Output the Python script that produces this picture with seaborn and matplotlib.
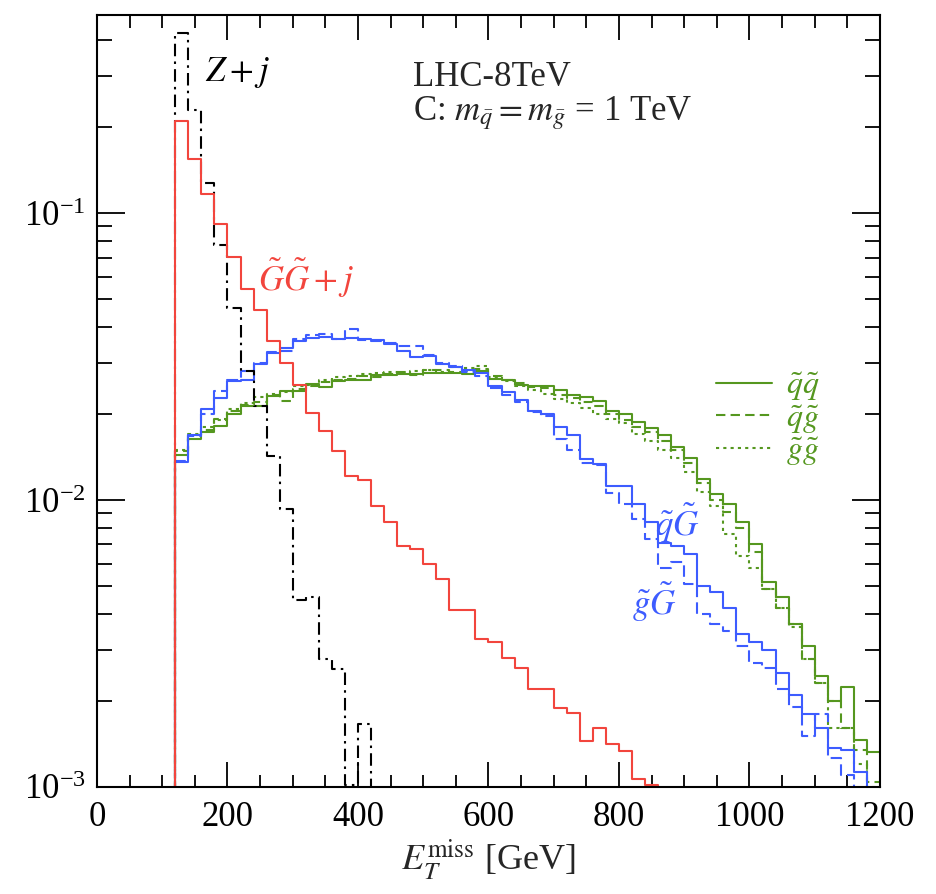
import numpy as np
import pandas as pd
import matplotlib
matplotlib.use("Agg")
import matplotlib.pyplot as plt
from matplotlib.lines import Line2D
from matplotlib.ticker import LogLocator, MultipleLocator, NullFormatter
import seaborn as sns

# 20 GeV bins, lower edges 120 ... 1180
bin_edges = np.arange(120, 1201, 20)

# Z + jet background (dash-dot), 0 = below the plotted range
zj = [0.424, 0.229, 0.127, 0.0774, 0.0467, 0.0282, 0.0213, 0.01425, 0.0093, 0.00447,
      0.00461, 0.0028, 0.00258, 0.00102, 0.00166, 0, 0, 0, 0, 0,
      0, 0, 0, 0, 0, 0, 0, 0, 0, 0,
      0, 0, 0, 0, 0, 0, 0, 0, 0, 0,
      0, 0, 0, 0, 0, 0, 0, 0, 0, 0,
      0, 0, 0, 0]

# gravitino pair + jet (red)
gg_j = [0.210, 0.154, 0.117, 0.0913, 0.0705, 0.0545, 0.046, 0.0357, 0.0301, 0.0251,
        0.0201, 0.0174, 0.0148, 0.0121, 0.0117, 0.00956, 0.00837, 0.00694, 0.00676, 0.0060,
        0.00532, 0.00415, 0.00415, 0.00329, 0.00321, 0.00281, 0.0026, 0.00219, 0.00219, 0.00189,
        0.00181, 0.00145, 0.0016, 0.00141, 0.00133, 0.00107, 0.00102, 0, 0, 0,
        0, 0, 0, 0, 0, 0, 0, 0, 0, 0,
        0, 0, 0, 0]

# squark + gravitino (blue solid)
qG = [0.0136, 0.0168, 0.0208, 0.0227, 0.0259, 0.0263, 0.0297, 0.0326, 0.0338, 0.0357,
      0.0367, 0.0371, 0.0365, 0.0366, 0.0364, 0.0360, 0.0350, 0.0330, 0.0315, 0.0318,
      0.0297, 0.0290, 0.0285, 0.0277, 0.0250, 0.0237, 0.0224, 0.0205, 0.0199, 0.0179,
      0.0168, 0.0139, 0.0133, 0.0112, 0.0112, 0.0097, 0.0084, 0.0071, 0.0069, 0.0065,
      0.0050, 0.0048, 0.0042, 0.0034, 0.0032, 0.0030, 0.0025, 0.0021, 0.0018, 0.0016,
      0.00137, 0.00135, 0.00113, 0.00098]

# gluino + gravitino (blue dashed)
gG = [0.0137, 0.0167, 0.0199, 0.0240, 0.0263, 0.0281, 0.0301, 0.0328, 0.0330, 0.0364,
      0.0377, 0.0380, 0.0364, 0.0393, 0.0362, 0.0358, 0.0352, 0.0343, 0.0343, 0.0320,
      0.0300, 0.0292, 0.0280, 0.0270, 0.0245, 0.0232, 0.0219, 0.0202, 0.0196, 0.0163,
      0.0150, 0.0135, 0.0132, 0.0106, 0.0097, 0.0086, 0.0073, 0.0058, 0.0061, 0.0051,
      0.0040, 0.0037, 0.0035, 0.0031, 0.0027, 0.0026, 0.0022, 0.0019, 0.0015, 0.0018,
      0.00126, 0.0011, 0.0009, 0.0008]

# squark pair (green solid)
qq = [0.0143, 0.0163, 0.0172, 0.0181, 0.0199, 0.0212, 0.0212, 0.0230, 0.0240, 0.0240,
      0.0253, 0.0248, 0.0260, 0.0262, 0.0262, 0.0272, 0.0272, 0.0275, 0.0276, 0.0277,
      0.0278, 0.0278, 0.0276, 0.0282, 0.0265, 0.0263, 0.0252, 0.0250, 0.0250, 0.0242,
      0.0232, 0.0228, 0.0221, 0.0205, 0.0200, 0.0187, 0.0178, 0.0168, 0.0153, 0.0140,
      0.0118, 0.0105, 0.0097, 0.0084, 0.0070, 0.0052, 0.0046, 0.0037, 0.0031, 0.00244,
      0.0020, 0.00223, 0.00146, 0.00132]

# squark + gluino (green dashed)
qg = [0.0148, 0.0168, 0.0175, 0.0192, 0.0205, 0.0215, 0.0220, 0.0233, 0.0222, 0.0244,
      0.0250, 0.0258, 0.0262, 0.0265, 0.0270, 0.0268, 0.0275, 0.0280, 0.0272, 0.0283,
      0.0285, 0.0280, 0.0282, 0.0286, 0.0270, 0.0262, 0.0255, 0.0248, 0.0245, 0.0232,
      0.0226, 0.0220, 0.0212, 0.0200, 0.0190, 0.0180, 0.0172, 0.0160, 0.0150, 0.0135,
      0.0115, 0.0100, 0.0091, 0.0080, 0.0066, 0.0049, 0.0042, 0.0037, 0.0028, 0.0023,
      0.0020, 0.0016, 0.00135, 0.00104]

# gluino pair (green dotted)
gg = [0.0150, 0.0170, 0.0180, 0.0190, 0.0208, 0.0218, 0.0228, 0.0235, 0.0238, 0.0250,
      0.0252, 0.0262, 0.0268, 0.0270, 0.0275, 0.0278, 0.0280, 0.0278, 0.0282, 0.0285,
      0.0280, 0.0290, 0.0288, 0.0292, 0.0268, 0.0260, 0.0250, 0.0242, 0.0235, 0.0225,
      0.0218, 0.0210, 0.0200, 0.0192, 0.0185, 0.0170, 0.0160, 0.0150, 0.0140, 0.0125,
      0.0107, 0.0095, 0.0076, 0.0064, 0.0058, 0.0049, 0.0042, 0.0036, 0.0028, 0.0023,
      0.0016, 0.0016, 0.0012, 0.0010]

RED = "#f2453d"
BLUE = "#3d5cff"
GREEN = "#55971f"

sns.set_style("ticks")
plt.rcParams["font.family"] = ["Liberation Serif", "DejaVu Serif"]
plt.rcParams["mathtext.fontset"] = "stix"
plt.rcParams["font.size"] = 25


def steps(vals):
    # step outline: start at 0 so the first edge is drawn from the bottom
    x = np.r_[bin_edges[0], bin_edges]
    y = np.r_[0.0, vals, vals[-1]]
    return pd.DataFrame({"x": x, "y": y})


fig = plt.figure(figsize=(9.36, 8.94), dpi=100)
ax = fig.add_axes([0.1036, 0.1197, 0.8365, 0.8635])

lw = 1.5
series = [
    (gg, GREEN, (0, (1.5, 2.0))),
    (qg, GREEN, (0, (4.5, 2.5))),
    (qq, GREEN, "-"),
    (gG, BLUE, (0, (5.5, 2.5))),
    (qG, BLUE, "-"),
    (zj, "black", (0, (6.0, 2.5, 1.2, 2.5))),
    (gg_j, RED, "-"),
]
for vals, col, ls in series:
    sns.lineplot(data=steps(vals), x="x", y="y", ax=ax, estimator=None, sort=False,
                 drawstyle="steps-post", color=col, linestyle=ls, linewidth=lw)

ax.set_yscale("log")
ax.set_xlim(0, 1200)
ax.set_ylim(1e-3, 0.49)

ax.xaxis.set_major_locator(MultipleLocator(200))
ax.xaxis.set_minor_locator(MultipleLocator(50))
ax.yaxis.set_major_locator(LogLocator(base=10, numticks=10))
ax.yaxis.set_minor_locator(LogLocator(base=10, subs=np.arange(2, 10), numticks=20))
ax.yaxis.set_minor_formatter(NullFormatter())
ax.tick_params(which="both", direction="in", top=True, right=True, width=1.3, colors="black")
ax.tick_params(axis="x", which="major", length=18, pad=10, labelsize=25)
ax.tick_params(axis="x", which="minor", length=9)
ax.tick_params(axis="y", which="major", length=20, pad=8, labelsize=25)
ax.tick_params(axis="y", which="minor", length=11)
for s in ax.spines.values():
    s.set_linewidth(1.5)
    s.set_color("black")

ax.set_xlabel(r"$E_T^{\mathrm{miss}}$ [GeV]", fontsize=26, labelpad=2)
ax.set_ylabel("")

ax.text(165, 0.31, r"$Z+j$", fontsize=25, color="black", va="center")
ax.text(247, 0.059, r"$\tilde{G}\tilde{G}+j$", fontsize=25, color=RED, va="center")
ax.text(484, 0.278, "LHC-8TeV", fontsize=25, va="baseline")
ax.text(484, 0.21, r"C: $m_{\bar{q}} = m_{\bar{g}}$ = 1 TeV", fontsize=25, va="baseline")
ax.text(855, 0.0083, r"$\tilde{q}\tilde{G}$", fontsize=25, color=BLUE, va="center")
ax.text(820, 0.0044, r"$\tilde{g}\tilde{G}$", fontsize=25, color=BLUE, va="center")

handles = [
    Line2D([], [], color=GREEN, lw=lw, linestyle="-"),
    Line2D([], [], color=GREEN, lw=lw, linestyle=(0, (4.5, 2.5))),
    Line2D([], [], color=GREEN, lw=lw, linestyle=(0, (1.5, 2.0))),
]
labels = [r"$\tilde{q}\tilde{q}$", r"$\tilde{q}\tilde{g}$", r"$\tilde{g}\tilde{g}$"]
ax.legend(handles, labels, loc="upper left", bbox_to_anchor=(0.77, 0.56),
          frameon=False, fontsize=23, labelcolor=GREEN, handlelength=1.75,
          handletextpad=0.45, labelspacing=0.0, borderpad=0.0)

fig.savefig("out.png", dpi=100)
